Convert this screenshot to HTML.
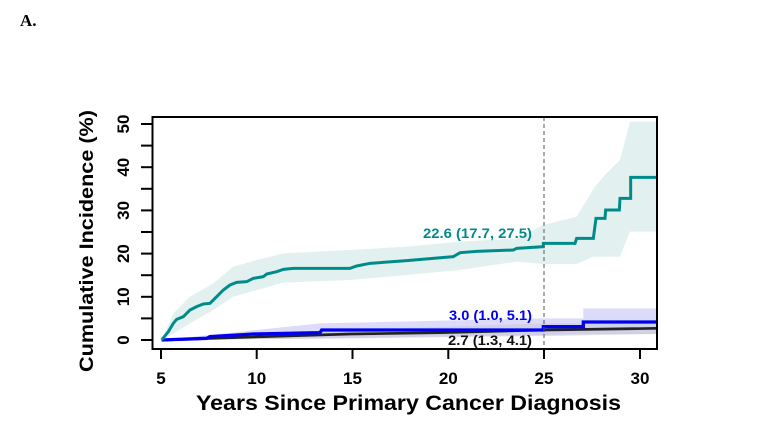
<!DOCTYPE html>
<html><head><style>
html,body{margin:0;padding:0;background:#fff;}
svg{display:block;font-family:"Liberation Sans",Arial,sans-serif;font-weight:bold;}
</style></head><body>
<svg width="776" height="427" viewBox="0 0 776 427" xmlns="http://www.w3.org/2000/svg">
<text x="20" y="26" font-family="Liberation Serif,serif" font-size="17" font-weight="bold">A.</text>
<g transform="translate(140,110) scale(0.3333333)">
  <polygon fill="#e2f1ef" points="65,690 100,610 150,560 220,520 280,470 350,450 430,430 630,420 800,410 960,395 1130,385 1210,345 1310,320 1365,230 1395,195 1440,150 1470,35 1550,35 1550,365 1470,365 1440,440 1360,440 1310,462 1210,462 1130,455 960,480 800,495 630,510 430,518 280,560 220,600 150,640 100,670 65,690"/>
  <polygon fill="#dcdcfa" points="65,690 540,640 1210,625 1330,625 1330,595 1550,595 1550,672 1330,672 1210,675 540,685 65,690"/>
  <polygon fill="#c8c8dc" opacity="0.6" points="65,690 630,660 1210,640 1550,640 1550,672 1210,678 630,685 65,690"/>
  <polyline fill="none" stroke="#222" stroke-width="8" points="65,690 370,680 630,672 900,668 1210,660 1550,655"/>
  <polyline fill="none" stroke="#0000ee" stroke-width="10" points="65,690 200,685 210,680 340,672 540,668 545,660 1210,660 1210,650 1330,650 1330,636 1550,636"/>
  <polyline fill="none" stroke="#008b8b" stroke-width="9" points="65,690 85,665 100,640 110,628 130,620 150,600 170,590 190,582 210,580 230,560 250,540 270,525 290,517 320,515 340,505 370,500 380,492 410,485 430,478 460,475 630,475 650,468 690,460 800,452 940,440 960,428 1010,424 1120,420 1130,415 1210,410 1210,400 1305,400 1310,385 1360,385 1368,325 1395,325 1397,300 1438,300 1440,265 1472,265 1472,202 1550,202"/>
</g>
<line x1="544" y1="117" x2="544" y2="349" stroke="#555" stroke-width="1" stroke-dasharray="4,3"/>
<rect x="152.5" y="117" width="504.5" height="232" fill="none" stroke="#000" stroke-width="2"/>
<g stroke="#000" stroke-width="2">
<line x1="141" y1="340" x2="152" y2="340"/><line x1="141" y1="318.4" x2="152" y2="318.4"/>
<line x1="141" y1="296.8" x2="152" y2="296.8"/><line x1="141" y1="275.2" x2="152" y2="275.2"/>
<line x1="141" y1="253.6" x2="152" y2="253.6"/><line x1="141" y1="232" x2="152" y2="232"/>
<line x1="141" y1="210.4" x2="152" y2="210.4"/><line x1="141" y1="188.8" x2="152" y2="188.8"/>
<line x1="141" y1="167.2" x2="152" y2="167.2"/><line x1="141" y1="145.6" x2="152" y2="145.6"/>
<line x1="141" y1="124" x2="152" y2="124"/>
<line x1="161" y1="349" x2="161" y2="359"/><line x1="256.7" y1="349" x2="256.7" y2="359"/>
<line x1="352.5" y1="349" x2="352.5" y2="359"/><line x1="448.3" y1="349" x2="448.3" y2="359"/>
<line x1="544" y1="349" x2="544" y2="359"/><line x1="640" y1="349" x2="640" y2="359"/>
</g>
<g font-size="17" text-anchor="middle">
<text transform="translate(129,340) rotate(-90)">0</text>
<text transform="translate(129,296.8) rotate(-90)">10</text>
<text transform="translate(129,253.6) rotate(-90)">20</text>
<text transform="translate(129,210.4) rotate(-90)">30</text>
<text transform="translate(129,167.2) rotate(-90)">40</text>
<text transform="translate(129,124) rotate(-90)">50</text>
</g>
<g font-size="17" text-anchor="middle">
<text x="161" y="384">5</text><text x="256.7" y="384">10</text><text x="352.5" y="384">15</text>
<text x="448.3" y="384">20</text><text x="544" y="384">25</text><text x="640" y="384">30</text>
</g>
<text x="196" y="410" font-size="21" textLength="425" lengthAdjust="spacingAndGlyphs">Years Since Primary Cancer Diagnosis</text>
<text transform="translate(93,372) rotate(-90)" font-size="19" textLength="262" lengthAdjust="spacingAndGlyphs">Cumulative Incidence (%)</text>
<g font-size="14">
<text x="423" y="238" fill="#008b8b" textLength="109" lengthAdjust="spacingAndGlyphs">22.6 (17.7, 27.5)</text>
<text x="449" y="320" fill="#0000ee" textLength="83" lengthAdjust="spacingAndGlyphs">3.0 (1.0, 5.1)</text>
<text x="448" y="345" fill="#111" textLength="84" lengthAdjust="spacingAndGlyphs">2.7 (1.3, 4.1)</text>
</g>
</svg>
</body></html>
